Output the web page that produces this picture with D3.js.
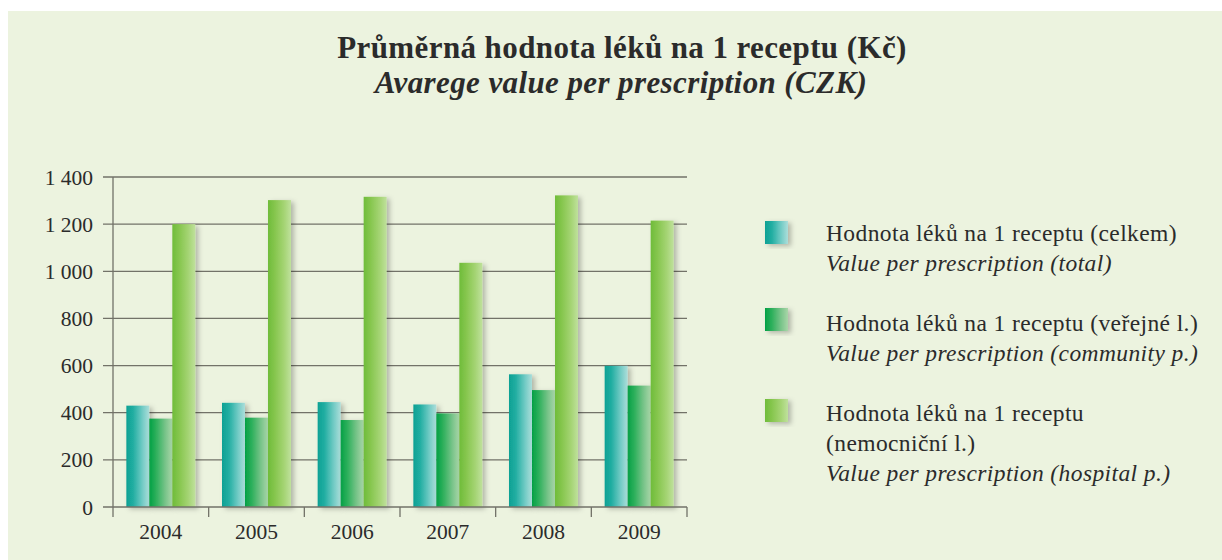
<!DOCTYPE html>
<html lang="cs">
<head>
  <meta charset="UTF-8" />
  <title>Průměrná hodnota léků na 1 receptu</title>
  <script src="https://d3js.org/d3.v7.min.js"></script>
  <style>
    body { margin: 0; background: #fff; }
    svg text { font-family: "Liberation Serif", "DejaVu Serif", serif; fill: #2b2b2b; }
    .grid line { stroke: #727268; stroke-width: 1.3; }
  </style>
</head>
<body>
  <svg id="chart" width="1222" height="560"></svg>

  <script>
    const years = ["2004", "2005", "2006", "2007", "2008", "2009"];
    const total = [430, 442, 445, 435, 563, 599];
    const community = [375, 379, 369, 397, 496, 515];
    const hospital = [1200, 1302, 1316, 1036, 1322, 1215];
    const yTicks = [0, 200, 400, 600, 800, 1000, 1200, 1400];

    const seriesKeys = ["total", "community", "hospital"];
    const seriesValues = { total, community, hospital };
    const legendCz = [
      ["Hodnota léků na 1 receptu (celkem)"],
      ["Hodnota léků na 1 receptu (veřejné l.)"],
      ["Hodnota léků na 1 receptu", "(nemocniční l.)"]
    ];
    const legendEn = [
      "Value per prescription (total)",
      "Value per prescription (community p.)",
      "Value per prescription (hospital p.)"
    ];
    const gradStops = {
      total: ["#0da194", "#22aea2", "#72cbc5", "#acdeda"],
      community: ["#03a045", "#2eb05c", "#79c48a", "#a9d6a8"],
      hospital: ["#6fbc3a", "#86c64e", "#a5d474", "#bfe19c"]
    };

    const svg = d3.select("#chart");
    const defs = svg.append("defs");

    seriesKeys.forEach(k => {
      const g = defs.append("linearGradient").attr("id", "grad-" + k)
        .attr("x1", "0%").attr("x2", "100%").attr("y1", "0%").attr("y2", "0%");
      [0, 0.3, 0.7, 1].forEach((o, i) => {
        g.append("stop").attr("offset", o).attr("stop-color", gradStops[k][i]);
      });
    });

    const shadow = defs.append("filter").attr("id", "shadow")
      .attr("x", "-20%").attr("y", "-10%").attr("width", "160%").attr("height", "130%");
    shadow.append("feDropShadow").attr("dx", 3).attr("dy", 2)
      .attr("stdDeviation", 2.5).attr("flood-color", "#000").attr("flood-opacity", 0.25);

    // background panel
    svg.append("rect").attr("x", 8).attr("y", 11).attr("width", 1214).attr("height", 549)
      .attr("fill", "#ecf3df");

    // titles
    svg.append("text").attr("x", 622).attr("y", 58).attr("text-anchor", "middle")
      .style("font-size", "31px").style("font-weight", "bold").style("letter-spacing", "0.4px")
      .text("Průměrná hodnota léků na 1 receptu (Kč)");
    svg.append("text").attr("x", 621).attr("y", 93).attr("text-anchor", "middle")
      .style("font-size", "31px").style("font-weight", "bold").style("font-style", "italic")
      .style("letter-spacing", "0.4px")
      .text("Avarege value per prescription (CZK)");

    const x0 = d3.scaleBand().domain(years).range([113, 687]);
    const x1 = d3.scaleBand().domain(seriesKeys).range([0, x0.bandwidth()]).paddingOuter(0.58);
    const y = d3.scaleLinear().domain([0, 1400]).range([507, 177]);

    const fmt = d3.formatLocale({ decimal: ",", thousands: " ", grouping: [3], currency: ["", " Kč"] }).format(",d");

    // gridlines + left ticks
    const grid = svg.append("g").attr("class", "grid");
    grid.selectAll("line").data(yTicks.filter(d => d > 0)).join("line")
      .attr("x1", 103).attr("x2", 687)
      .attr("y1", d => y(d)).attr("y2", d => y(d));

    svg.append("g").selectAll("text").data(yTicks).join("text")
      .attr("x", 93).attr("y", d => y(d)).attr("dy", "0.35em")
      .attr("text-anchor", "end").style("font-size", "21.5px")
      .text(d => fmt(d));

    // bars
    const groups = svg.append("g").selectAll("g").data(years).join("g")
      .attr("transform", d => `translate(${x0(d)},0)`);
    groups.selectAll("rect")
      .data((yr, i) => seriesKeys.map(k => ({ key: k, value: seriesValues[k][i] })))
      .join("rect")
      .attr("x", d => x1(d.key))
      .attr("width", x1.bandwidth())
      .attr("y", d => y(d.value))
      .attr("height", d => y(0) - y(d.value))
      .attr("fill", d => `url(#grad-${d.key})`)
      .attr("filter", "url(#shadow)");

    // axes lines
    const axisColor = "#727268";
    svg.append("line").attr("x1", 113).attr("x2", 113).attr("y1", 177).attr("y2", 507)
      .attr("stroke", axisColor).attr("stroke-width", 1.3);
    svg.append("line").attr("x1", 103).attr("x2", 687).attr("y1", 507).attr("y2", 507)
      .attr("stroke", axisColor).attr("stroke-width", 1.3);
    const bounds = years.map(d => x0(d)).concat([x0.range()[1]]);
    svg.append("g").selectAll("line").data(bounds).join("line")
      .attr("x1", d => d).attr("x2", d => d).attr("y1", 507).attr("y2", 517)
      .attr("stroke", axisColor).attr("stroke-width", 1.3);

    svg.append("g").selectAll("text").data(years).join("text")
      .attr("x", d => x0(d) + x0.bandwidth() / 2).attr("y", 531).attr("dy", "0.35em")
      .attr("text-anchor", "middle").style("font-size", "21.5px")
      .text(d => d);

    // legend
    const legendTop = [221, 308, 399];
    const legendText = [233, 323, 413];
    const legend = svg.append("g");
    seriesKeys.forEach((k, i) => {
      legend.append("rect").attr("x", 765).attr("y", legendTop[i]).attr("width", 23).attr("height", 23)
        .attr("fill", `url(#grad-${k})`).attr("filter", "url(#shadow)");
      const lines = legendCz[i].map(t => ({ t, it: false })).concat([{ t: legendEn[i], it: true }]);
      lines.forEach((l, j) => {
        legend.append("text").attr("x", 826).attr("y", legendText[i] + j * 30).attr("dy", "0.35em")
          .style("font-size", "23.5px").style("letter-spacing", "0.4px")
          .style("font-style", l.it ? "italic" : "normal")
          .text(l.t);
      });
    });
  </script>
</body>
</html>
